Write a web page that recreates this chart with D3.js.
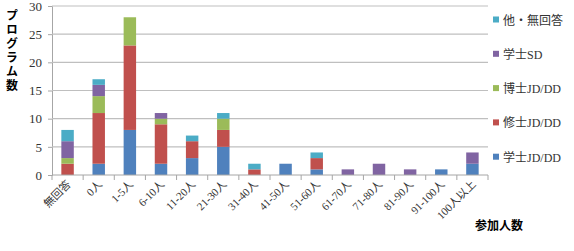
<!DOCTYPE html>
<html>
<head>
<meta charset="utf-8">
<script src="https://cdn.jsdelivr.net/npm/d3@7"></script>
<style>
  body { margin: 0; background: #fff; }
  svg { display: block; }
</style>
</head>
<body>
<svg></svg>
<script>
const width = 574;
const height = 251;

// DATA
const categories = ['無回答', '0人', '1-5人', '6-10人', '11-20人', '21-30人', '31-40人',
                    '41-50人', '51-60人', '61-70人', '71-80人', '81-90人', '91-100人', '100人以上'];
const seriesNames = ['学士JD/DD', '修士JD/DD', '博士JD/DD', '学士SD', '他・無回答'];
const gakushiJD = [0, 2, 8, 2, 3, 5, 0, 2, 1, 0, 0, 0, 1, 2];
const shushiJD  = [2, 9, 15, 7, 3, 3, 1, 0, 2, 0, 0, 0, 0, 0];
const hakushiJD = [1, 3, 5, 1, 0, 2, 0, 0, 0, 0, 0, 0, 0, 0];
const gakushiSD = [3, 2, 0, 1, 0, 0, 0, 0, 0, 1, 2, 1, 0, 2];
const otherNA   = [2, 1, 0, 0, 1, 1, 1, 0, 1, 0, 0, 0, 0, 0];
const yTicks = [0, 5, 10, 15, 20, 25, 30];
const colors = ['#4F81BD', '#C0504D', '#9BBB59', '#8064A2', '#4BACC6'];

const seriesValues = [gakushiJD, shushiJD, hakushiJD, gakushiSD, otherNA];
const table = categories.map((c, i) => {
  const row = { cat: c };
  seriesNames.forEach((s, j) => row[s] = seriesValues[j][i]);
  return row;
});
const stacked = d3.stack().keys(seriesNames)(table);

const margin = { left: 52, right: 86, top: 6, bottom: 76 };
const plotW = width - margin.left - margin.right;
const plotH = height - margin.top - margin.bottom;

const serif = '"Liberation Serif", "Noto Sans CJK JP", serif';

// SCALES
const xScale = d3.scaleBand()
                 .domain(categories)
                 .range([margin.left, margin.left + plotW])
                 .paddingInner(0.6)
                 .paddingOuter(0.3);
const yScale = d3.scaleLinear()
                 .domain([0, 30])
                 .range([margin.top + plotH, margin.top]);
const color = d3.scaleOrdinal().domain(seriesNames).range(colors);

const svg = d3.select('svg')
              .attr('width', width)
              .attr('height', height);

// GRID + Y AXIS
const yAxis = d3.axisLeft(yScale)
                .tickValues(yTicks)
                .tickSize(4)
                .tickPadding(6);
const gy = svg.append('g')
              .attr('transform', `translate(${margin.left}, 0)`)
              .call(yAxis);
gy.select('.domain').attr('stroke', '#a6a6a6');
gy.selectAll('.tick line').attr('stroke', '#a6a6a6');
gy.selectAll('.tick text')
  .style('font-family', serif)
  .style('font-size', '13px')
  .attr('fill', '#333');

svg.append('g')
   .selectAll('line')
   .data(yTicks.filter(d => d > 0))
   .enter()
   .append('line')
     .attr('x1', margin.left)
     .attr('x2', margin.left + plotW)
     .attr('y1', d => yScale(d))
     .attr('y2', d => yScale(d))
     .attr('stroke', '#bfbfbf')
     .attr('stroke-width', 1.2);

// BARS
svg.append('g')
   .selectAll('g')
   .data(stacked)
   .enter()
   .append('g')
     .attr('fill', d => color(d.key))
   .selectAll('rect')
   .data(d => d)
   .enter()
   .append('rect')
     .attr('x', d => xScale(d.data.cat))
     .attr('y', d => yScale(d[1]))
     .attr('width', xScale.bandwidth())
     .attr('height', d => yScale(d[0]) - yScale(d[1]));

// X AXIS
const step = plotW / categories.length;
const xBase = margin.top + plotH;
svg.append('line')
   .attr('x1', margin.left).attr('x2', margin.left + plotW)
   .attr('y1', xBase).attr('y2', xBase)
   .attr('stroke', '#a6a6a6');
svg.append('g')
   .selectAll('line')
   .data(d3.range(categories.length + 1))
   .enter()
   .append('line')
     .attr('x1', i => margin.left + i * step)
     .attr('x2', i => margin.left + i * step)
     .attr('y1', xBase)
     .attr('y2', xBase + 5)
     .attr('stroke', '#a6a6a6');

svg.append('g')
   .selectAll('text')
   .data(categories)
   .enter()
   .append('text')
     .attr('transform', d => `translate(${xScale(d) + xScale.bandwidth() / 2 + 4}, ${xBase + 10}) rotate(-45)`)
     .style('text-anchor', 'end')
     .style('font-family', serif)
     .style('font-size', '11px')
     .attr('fill', '#333')
     .text(d => d);

// AXIS TITLES
svg.append('text')
   .attr('x', 12)
   .attr('y', 9)
   .style('writing-mode', 'vertical-rl')
   .style('letter-spacing', '2px')
   .style('font-family', '"Noto Sans CJK JP", sans-serif')
   .style('font-weight', 'bold')
   .style('font-size', '12px')
   .text('プログラム数');

svg.append('text')
   .attr('x', 499)
   .attr('y', 230)
   .style('text-anchor', 'middle')
   .style('font-family', '"Noto Sans CJK JP", sans-serif')
   .style('font-weight', 'bold')
   .style('font-size', '12px')
   .text('参加人数');

// LEGEND
const legendNames = seriesNames.slice().reverse();
const legend = svg.append('g')
                  .selectAll('g')
                  .data(legendNames)
                  .enter()
                  .append('g')
                    .attr('transform', (d, i) => `translate(493, ${20 + i * 34.3})`);
legend.append('rect')
      .attr('x', 0).attr('y', -3.5)
      .attr('width', 6).attr('height', 6)
      .attr('fill', d => color(d));
legend.append('text')
      .attr('x', 10)
      .attr('y', 4.5)
      .style('font-family', serif)
      .style('font-size', '12px')
      .attr('fill', '#333')
      .text(d => d);
</script>
</body>
</html>
